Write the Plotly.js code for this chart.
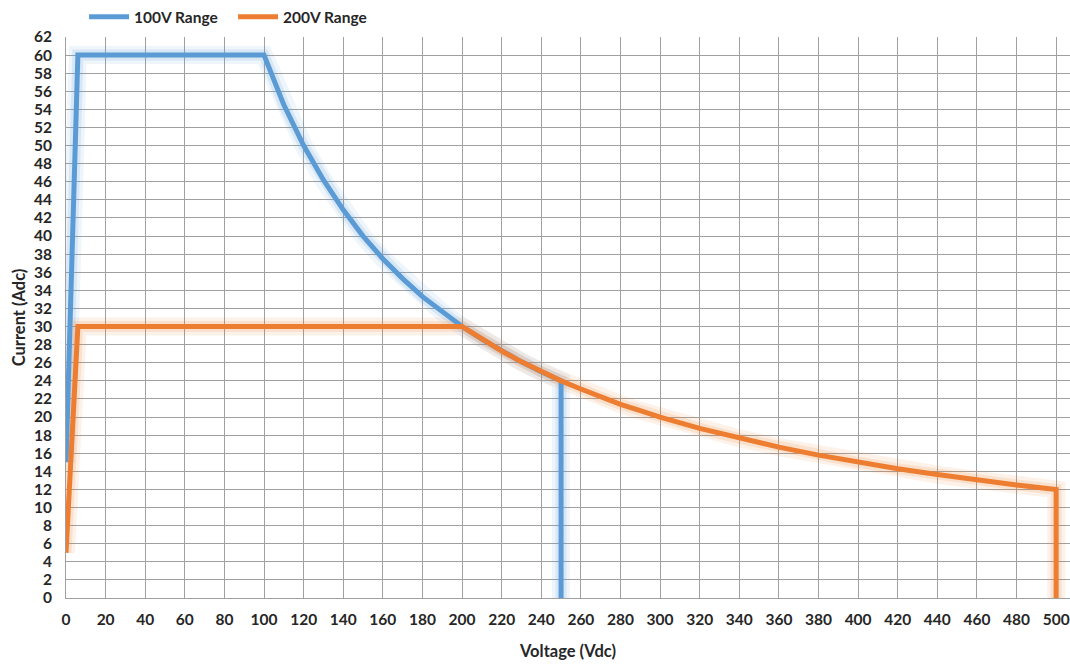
<!DOCTYPE html>
<html>
<head>
<meta charset="utf-8">
<script src="https://cdn.plot.ly/plotly-3.0.1.min.js"></script>
<style>html,body{margin:0;padding:0;background:#fff;}#chart{width:1070px;height:664px;}</style>
</head>
<body>
<div id="chart"></div>
<script>
// 100V range: voltage (Vdc) and current (Adc)
const v100 = [0, 6, 100, 110, 120, 130, 140, 150, 160, 170, 180, 190, 200, 210, 220, 230, 240, 250, 250];
const i100 = [15, 60, 60, 54.5, 50, 46.2, 42.9, 40, 37.5, 35.3, 33.3, 31.6, 30, 28.6, 27.3, 26.1, 25, 24, 0];
// 200V range
const v200 = [0, 6, 200, 210, 220, 230, 240, 250, 260, 270, 280, 290, 300, 320, 340, 360, 380, 400, 420, 440, 460, 480, 500, 500];
const i200 = [5, 30, 30, 28.6, 27.3, 26.1, 25, 24, 23.1, 22.2, 21.4, 20.7, 20, 18.75, 17.65, 16.67, 15.79, 15, 14.29, 13.64, 13.04, 12.5, 12, 0];
const seriesNames = ['100V Range', '200V Range'];
const colors = ['#5b9bd5', '#ed7d31'];

const glow = (x, y, c, w, op) => ({x, y, mode: 'lines', line: {color: c, width: w}, opacity: op, showlegend: false, hoverinfo: 'skip'});
const traces = [
  glow(v100, i100, colors[0], 18, 0.10),
  glow(v100, i100, colors[0], 11, 0.15),
  glow(v200, i200, colors[1], 18, 0.10),
  glow(v200, i200, colors[1], 11, 0.15),
  {x: v100, y: i100, name: seriesNames[0], mode: 'lines', line: {color: colors[0], width: 5}},
  {x: v200, y: i200, name: seriesNames[1], mode: 'lines', line: {color: colors[1], width: 5}}
];

const tickFont = {family: 'Lato, "Open Sans", sans-serif', size: 15.5, color: '#262626', weight: 'bold'};
const layout = {
  width: 1070, height: 664,
  margin: {l: 66, r: 0, t: 37, b: 66, autoexpand: false},
  paper_bgcolor: '#fff', plot_bgcolor: '#fff',
  font: tickFont,
  showlegend: true,
  legend: {orientation: 'h', x: 0.018, xanchor: 'left', y: 1.005, yanchor: 'bottom',
           font: {family: 'Lato, sans-serif', size: 15.5, color: '#262626', weight: 'bold'},
           itemwidth: 40, tracegroupgap: 0, entrywidth: 94, entrywidthmode: 'pixels'},
  xaxis: {
    range: [0, 507], dtick: 20, tick0: 0,
    showgrid: true, gridcolor: '#a0a0a0', gridwidth: 1,
    zeroline: false, showline: true, linecolor: '#a0a0a0',
    ticks: '', ticklabelstandoff: 7,
    tickfont: tickFont,
    title: {text: 'Voltage (Vdc)', font: {family: 'Lato, sans-serif', size: 16.5, color: '#262626', weight: 'bold'}, standoff: 18}
  },
  yaxis: {
    range: [0, 62], dtick: 2, tick0: 0,
    showgrid: true, gridcolor: '#a0a0a0', gridwidth: 1,
    zeroline: false, showline: true, linecolor: '#a0a0a0',
    ticks: '', ticklabelstandoff: 10,
    tickfont: tickFont,
    title: {text: 'Current (Adc)', font: {family: 'Lato, sans-serif', size: 16.5, color: '#262626', weight: 'bold'}, standoff: 4}
  }
};
Plotly.newPlot('chart', traces, layout, {staticPlot: true, displayModeBar: false});
</script>
</body>
</html>
